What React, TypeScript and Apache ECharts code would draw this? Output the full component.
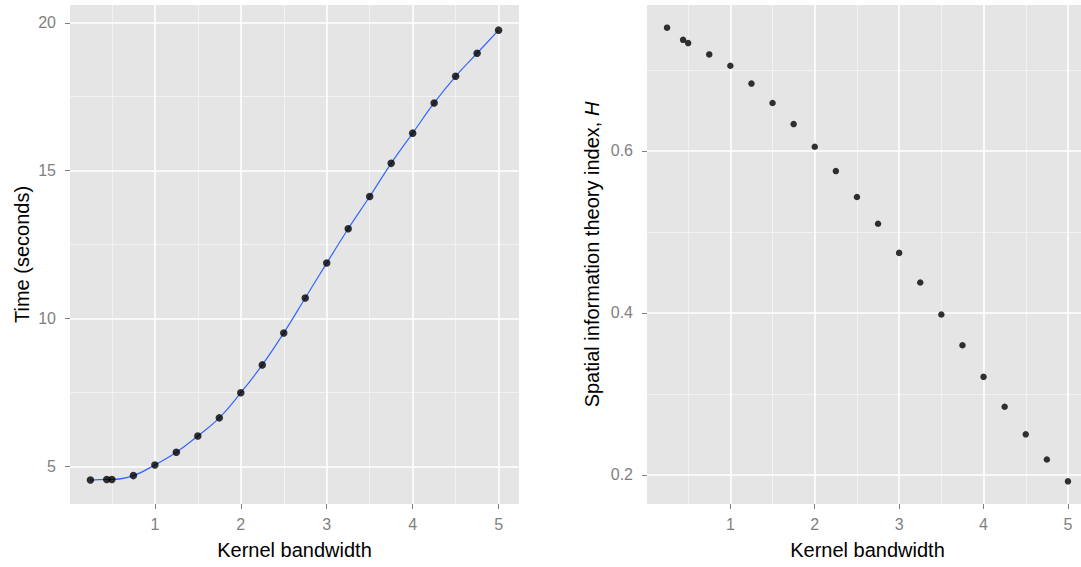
import { useEffect, useRef } from "react";
import * as echarts from "echarts";

// Kernel bandwidth values (shared x for both panels)
const bandwidth = [0.25, 0.44, 0.5, 0.75, 1, 1.25, 1.5, 1.75, 2, 2.25, 2.5, 2.75, 3, 3.25, 3.5, 3.75, 4, 4.25, 4.5, 4.75, 5];
// Left panel: computation time (seconds)
const timeSeconds = [4.55, 4.57, 4.57, 4.7, 5.06, 5.49, 6.04, 6.65, 7.5, 8.44, 9.52, 10.7, 11.88, 13.04, 14.13, 15.25, 16.27, 17.29, 18.19, 18.97, 19.75];
// Right panel: spatial information theory index H
const hIndex = [0.752, 0.737, 0.733, 0.719, 0.705, 0.683, 0.659, 0.633, 0.605, 0.575, 0.543, 0.51, 0.474, 0.4375, 0.398, 0.36, 0.321, 0.284, 0.25, 0.219, 0.192];

// Tick / grid breaks
const xMajor = [1, 2, 3, 4, 5];
const xMinor = [0.5, 1.5, 2.5, 3.5, 4.5];
const timeMajor = [5, 10, 15, 20];
const timeMinor = [7.5, 12.5, 17.5];
const hMajor = [0.2, 0.4, 0.6];
const hMinor = [0.3, 0.5, 0.7];

const PANEL_BG = "#E5E5E5";
const TICK_COLOR = "#7F7F7F";
const FONT = "'Liberation Sans', Arial, sans-serif";

export default function App() {
  const ref = useRef<HTMLDivElement>(null);

  useEffect(() => {
    if (!ref.current) return;
    const chart = echarts.init(ref.current, null, { renderer: "svg" });

    const X_MIN = 0.0125;
    const X_MAX = 5.2375;

    const minorAxis = (gridIndex: number, min: number, max: number, values: number[]) => ({
      type: "value" as const,
      gridIndex,
      min,
      max,
      z: 0,
      axisLine: { show: false },
      axisTick: { show: false, customValues: values },
      axisLabel: { show: false, customValues: values },
      splitLine: { show: true, lineStyle: { color: "#F2F2F2", width: 1 } },
    });

    const majorAxis = (gridIndex: number, min: number, max: number, values: number[], extra: any) => ({
      type: "value" as const,
      gridIndex,
      min,
      max,
      z: 1,
      axisLine: { show: false },
      axisTick: { show: true, length: 5, customValues: values, lineStyle: { color: TICK_COLOR, width: 1 } },
      axisLabel: { show: true, customValues: values, color: TICK_COLOR, fontSize: 16, fontFamily: FONT },
      splitLine: { show: true, lineStyle: { color: "#FFFFFF", width: 1.6 } },
      nameLocation: "middle" as const,
      nameTextStyle: { color: "#000000", fontSize: 20, fontFamily: FONT },
      ...extra,
    });

    chart.setOption({
      animation: false,
      backgroundColor: "#FFFFFF",
      grid: [
        { left: 70, top: 5, width: 449, height: 499, show: true, backgroundColor: PANEL_BG, borderWidth: 0 },
        { left: 647, top: 5, width: 441, height: 499, show: true, backgroundColor: PANEL_BG, borderWidth: 0 },
      ],
      xAxis: [
        minorAxis(0, X_MIN, X_MAX, xMinor),
        majorAxis(0, X_MIN, X_MAX, xMajor, {
          position: "bottom",
          name: "Kernel bandwidth",
          nameGap: 36,
          axisLabel: { show: true, customValues: xMajor, color: TICK_COLOR, fontSize: 16, fontFamily: FONT, margin: 12 },
        }),
        minorAxis(1, X_MIN, X_MAX, xMinor),
        majorAxis(1, X_MIN, X_MAX, xMajor, {
          position: "bottom",
          name: "Kernel bandwidth",
          nameGap: 36,
          axisLabel: { show: true, customValues: xMajor, color: TICK_COLOR, fontSize: 16, fontFamily: FONT, margin: 12 },
        }),
      ],
      yAxis: [
        minorAxis(0, 3.74, 20.6, timeMinor),
        majorAxis(0, 3.74, 20.6, timeMajor, {
          position: "left",
          name: "Time (seconds)",
          nameGap: 38,
          axisLabel: { show: true, customValues: timeMajor, color: TICK_COLOR, fontSize: 16, fontFamily: FONT, margin: 14 },
        }),
        minorAxis(1, 0.164, 0.78, hMinor),
        majorAxis(1, 0.164, 0.78, hMajor, {
          position: "left",
          name: "Spatial information theory index, {i|H}",
          nameGap: 45,
          nameTextStyle: {
            color: "#000000",
            fontSize: 20,
            fontFamily: FONT,
            rich: { i: { fontStyle: "italic", fontSize: 20, fontFamily: FONT, color: "#000000" } },
          },
          axisLabel: { show: true, customValues: hMajor, color: TICK_COLOR, fontSize: 16, fontFamily: FONT, margin: 14 },
        }),
      ],
      series: [
        {
          type: "line",
          xAxisIndex: 1,
          yAxisIndex: 1,
          data: bandwidth.map((x, i) => [x, timeSeconds[i]]),
          smooth: 0.4,
          showSymbol: false,
          lineStyle: { color: "#3366FF", width: 1.2 },
          z: 2,
        },
        {
          type: "scatter",
          xAxisIndex: 1,
          yAxisIndex: 1,
          data: bandwidth.map((x, i) => [x, timeSeconds[i]]),
          symbol: "circle",
          symbolSize: 7.5,
          itemStyle: { color: "#000000" },
          z: 3,
        },
        {
          type: "scatter",
          xAxisIndex: 3,
          yAxisIndex: 3,
          data: bandwidth.map((x, i) => [x, hIndex[i]]),
          symbol: "circle",
          symbolSize: 6.5,
          itemStyle: { color: "#000000" },
          z: 3,
        },
      ],
    });

    return () => chart.dispose();
  }, []);

  return (
    <div style={{ position: "absolute", left: 0, top: 0, width: 1081, height: 567, overflow: "hidden" }}>
      <div ref={ref} style={{ width: 1090, height: 567 }} />
    </div>
  );
}
